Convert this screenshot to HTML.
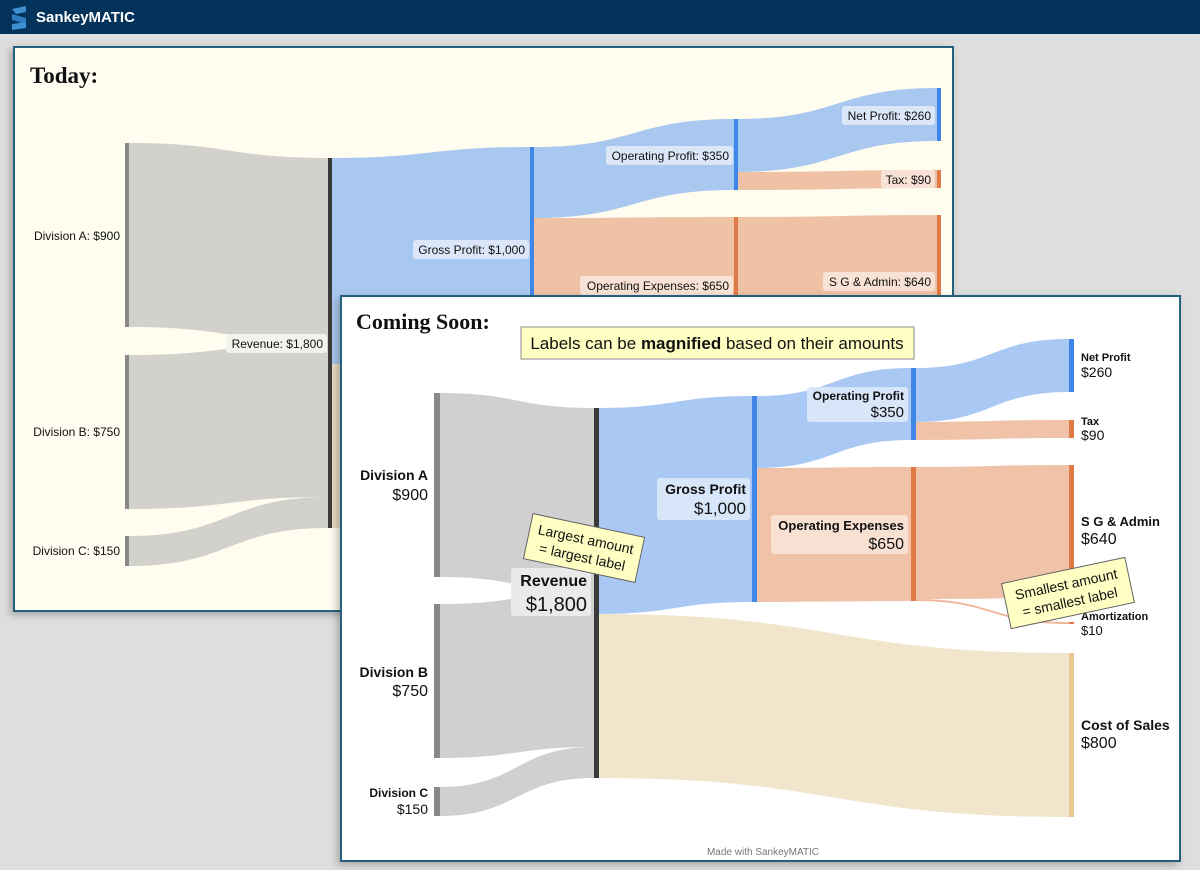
<!DOCTYPE html>
<html><head><meta charset="utf-8"><style>
html,body{margin:0;padding:0;width:1200px;height:870px;overflow:hidden;background:#dedede;font-family:"Liberation Sans",sans-serif}
svg{display:block}
</style></head><body>
<svg width="1200" height="870" viewBox="0 0 1200 870" xmlns="http://www.w3.org/2000/svg" font-family="Liberation Sans, sans-serif">
<defs>
<filter id="sh" x="-5%" y="-5%" width="110%" height="110%"><feDropShadow dx="-3" dy="3" stdDeviation="4" flood-color="#000" flood-opacity="0.25"/></filter>
</defs>
<rect x="0" y="0" width="1200" height="34" fill="#03335a"/>
<g>
<path d="M12 9 L26 6 L26 12 L16 14 Z" fill="#3d8fd0"/>
<path d="M12 14 L26 18 L26 24 L12 20 Z" fill="#2d7bbf"/>
<path d="M12 24 L26 22 L26 28 L12 30 Z" fill="#3d8fd0"/>
</g>
<text x="36" y="22" font-size="15" font-weight="bold" fill="#fff">SankeyMATIC</text>

<!-- Today panel -->
<rect x="14" y="47" width="939" height="564" fill="#fffdf0" stroke="#27607f" stroke-width="2" filter="url(#sh)"/>
<text x="30" y="83" font-family="Liberation Serif, serif" font-size="23" font-weight="bold" fill="#111">Today:</text>
<g>
<path d="M129 143 C229 143 229 158 328 158 L328 342 C229 342 229 327 129 327 Z" fill="#d2d1cb"/>
<path d="M129 355 C229 355 229 342 328 342 L328 497 C229 497 229 509 129 509 Z" fill="#d2d1cb"/>
<path d="M129 536 C229 536 229 497 328 497 L328 528 C229 528 229 566 129 566 Z" fill="#d2d1cb"/>
<path d="M332 158 C431 158 431 147 530 147 L530 353 C431 353 431 364 332 364 Z" fill="#a9c8ef"/>
<path d="M332 364 L400 364 L400 528 L332 528 Z" fill="#e9dcc0"/>
<path d="M534 147 C634 147 634 119 734 119 L734 190 C634 190 634 218 534 218 Z" fill="#a9c8ef"/>
<path d="M534 218 C634 218 634 217 734 217 L734 352 L534 353 Z" fill="#efc2a6"/>
<path d="M738 119 C838 119 838 88 937 88 L937 141 C838 141 838 172 738 172 Z" fill="#a9c8ef"/>
<path d="M738 172 C838 172 838 170 937 170 L937 188 C838 188 838 190 738 190 Z" fill="#efc2a6"/>
<path d="M738 217 C838 217 838 215 937 215 L937 352 L738 352 Z" fill="#efc2a6"/>
<rect x="125" y="143" width="4" height="184" fill="#888"/>
<rect x="125" y="355" width="4" height="154" fill="#888"/>
<rect x="125" y="536" width="4" height="30" fill="#888"/>
<rect x="328" y="158" width="4" height="370" fill="#3a3a3a"/>
<rect x="530" y="147" width="4" height="206" fill="#3f86e8"/>
<rect x="734" y="119" width="4" height="71" fill="#3f86e8"/>
<rect x="734" y="217" width="4" height="135" fill="#e07a45"/>
<rect x="937" y="88" width="4" height="53" fill="#3f86e8"/>
<rect x="937" y="170" width="4" height="18" fill="#e07a45"/>
<rect x="937" y="215" width="4" height="137" fill="#e07a45"/>
</g>
<g font-size="12" fill="#111" text-anchor="end">
<text x="120" y="240">Division A: $900</text>
<text x="120" y="436">Division B: $750</text>
<text x="120" y="555">Division C: $150</text>
<rect x="226" y="334" width="101" height="19" rx="3" fill="#f3f2ec"/>
<text x="323" y="348">Revenue: $1,800</text>
<rect x="413" y="240" width="116" height="19" rx="3" fill="#dbe7f8"/>
<text x="525" y="254">Gross Profit: $1,000</text>
<rect x="606" y="146" width="127" height="19" rx="3" fill="#dbe7f8"/>
<text x="729" y="160">Operating Profit: $350</text>
<rect x="580" y="276" width="153" height="19" rx="3" fill="#f8e2d6"/>
<text x="729" y="290">Operating Expenses: $650</text>
<rect x="842" y="106" width="93" height="19" rx="3" fill="#dbe7f8"/>
<text x="931" y="120">Net Profit: $260</text>
<rect x="881" y="170" width="54" height="18" rx="3" fill="#f8e2d6"/>
<text x="931" y="184">Tax: $90</text>
<rect x="823" y="272" width="112" height="19" rx="3" fill="#f8e2d6"/>
<text x="931" y="286">S G &amp; Admin: $640</text>
</g>

<!-- Coming Soon panel -->
<rect x="341" y="296" width="839" height="565" fill="#fff" stroke="#27607f" stroke-width="2" filter="url(#sh)"/>
<text x="356" y="329" font-family="Liberation Serif, serif" font-size="22" font-weight="bold" fill="#111">Coming Soon:</text>
<g>
<path d="M440 393 C517 393 517 408 594 408 L594 592 C517 592 517 577 440 577 Z" fill="#d0d0d0"/>
<path d="M440 604 C517 604 517 592 594 592 L594 747 C517 747 517 758 440 758 Z" fill="#d0d0d0"/>
<path d="M440 787 C517 787 517 747 594 747 L594 778 C517 778 517 816 440 816 Z" fill="#d0d0d0"/>
<path d="M599 408 C675 408 675 396 752 396 L752 602 C675 602 675 614 599 614 Z" fill="#a9c8f3"/>
<path d="M599 614 C834 614 834 653 1069 653 L1069 817 C834 817 834 778 599 778 Z" fill="#f1e6cc"/>
<path d="M757 396 C834 396 834 368 911 368 L911 440 C834 440 834 468 757 468 Z" fill="#a9c8f3"/>
<path d="M757 468 C834 468 834 467 911 467 L911 601 L757 602 Z" fill="#f0c2a8"/>
<path d="M916 368 C992 368 992 339 1069 339 L1069 392 C992 392 992 422 916 422 Z" fill="#a9c8f3"/>
<path d="M916 422 C992 422 992 420 1069 420 L1069 438 C992 438 992 440 916 440 Z" fill="#f0c2a8"/>
<path d="M916 467 C992 467 992 465 1069 465 L1069 598 C992 598 992 599 916 599 Z" fill="#f0c2a8"/>
<path d="M916 599 C992 599 992 622 1069 622 L1069 624 C992 624 992 601 916 601 Z" fill="#f0b89a"/>
<rect x="434" y="393" width="6" height="184" fill="#888"/>
<rect x="434" y="604" width="6" height="154" fill="#888"/>
<rect x="434" y="787" width="6" height="29" fill="#888"/>
<rect x="594" y="408" width="5" height="370" fill="#3a3a3a"/>
<rect x="752" y="396" width="5" height="206" fill="#3f86e8"/>
<rect x="911" y="368" width="5" height="72" fill="#3f86e8"/>
<rect x="911" y="467" width="5" height="134" fill="#e07a45"/>
<rect x="1069" y="339" width="5" height="53" fill="#3f86e8"/>
<rect x="1069" y="420" width="5" height="18" fill="#e07a45"/>
<rect x="1069" y="465" width="5" height="133" fill="#e07a45"/>
<rect x="1069" y="622" width="5" height="2" fill="#e07a45"/>
<rect x="1069" y="653" width="5" height="164" fill="#e8c88e"/>
</g>
<rect x="521" y="327" width="393" height="32" fill="#ffffc4" stroke="#888"/>
<text x="717" y="349" font-size="17" text-anchor="middle" fill="#111">Labels can be <tspan font-weight="bold">magnified</tspan> based on their amounts</text>
<g fill="#111" text-anchor="end">
<text x="428" y="480" font-size="14" font-weight="bold">Division A</text>
<text x="428" y="500" font-size="16">$900</text>
<text x="428" y="677" font-size="14" font-weight="bold">Division B</text>
<text x="428" y="696" font-size="16">$750</text>
<text x="428" y="797" font-size="12" font-weight="bold">Division C</text>
<text x="428" y="814" font-size="14">$150</text>
<rect x="511" y="568" width="80" height="48" rx="3" fill="#eaeaea"/>
<text x="587" y="586" font-size="16" font-weight="bold">Revenue</text>
<text x="587" y="611" font-size="20">$1,800</text>
<rect x="657" y="478" width="93" height="42" rx="3" fill="#d8e6f9"/>
<text x="746" y="494" font-size="14" font-weight="bold">Gross Profit</text>
<text x="746" y="514" font-size="17">$1,000</text>
<rect x="807" y="387" width="101" height="35" rx="3" fill="#d8e6f9"/>
<text x="904" y="400" font-size="12" font-weight="bold">Operating Profit</text>
<text x="904" y="417" font-size="15">$350</text>
<rect x="771" y="515" width="137" height="39" rx="3" fill="#f8e0d3"/>
<text x="904" y="530" font-size="13" font-weight="bold">Operating Expenses</text>
<text x="904" y="549" font-size="16">$650</text>
</g>
<g fill="#111">
<text x="1081" y="361" font-size="11" font-weight="bold">Net Profit</text>
<text x="1081" y="377" font-size="14">$260</text>
<text x="1081" y="425" font-size="11" font-weight="bold">Tax</text>
<text x="1081" y="440" font-size="14">$90</text>
<text x="1081" y="526" font-size="13" font-weight="bold">S G &amp; Admin</text>
<text x="1081" y="544" font-size="16">$640</text>
<text x="1081" y="620" font-size="11" font-weight="bold">Amortization</text>
<text x="1081" y="635" font-size="13">$10</text>
<text x="1081" y="730" font-size="14" font-weight="bold">Cost of Sales</text>
<text x="1081" y="748" font-size="16">$800</text>
</g>
<g transform="translate(584,548) rotate(12)">
<rect x="-57" y="-23" width="114" height="46" fill="#ffffc4" stroke="#666"/>
<text x="0" y="-4" font-size="14" text-anchor="middle" fill="#111">Largest amount</text>
<text x="0" y="14" font-size="14" text-anchor="middle" fill="#111">= largest label</text>
</g>
<g transform="translate(1068,593) rotate(-12)">
<rect x="-63" y="-23" width="126" height="46" fill="#ffffc4" stroke="#666"/>
<text x="0" y="-4" font-size="14" text-anchor="middle" fill="#111">Smallest amount</text>
<text x="0" y="14" font-size="14" text-anchor="middle" fill="#111">= smallest label</text>
</g>
<text x="763" y="855" font-size="10" text-anchor="middle" fill="#777">Made with SankeyMATIC</text>
</svg>
</body></html>
